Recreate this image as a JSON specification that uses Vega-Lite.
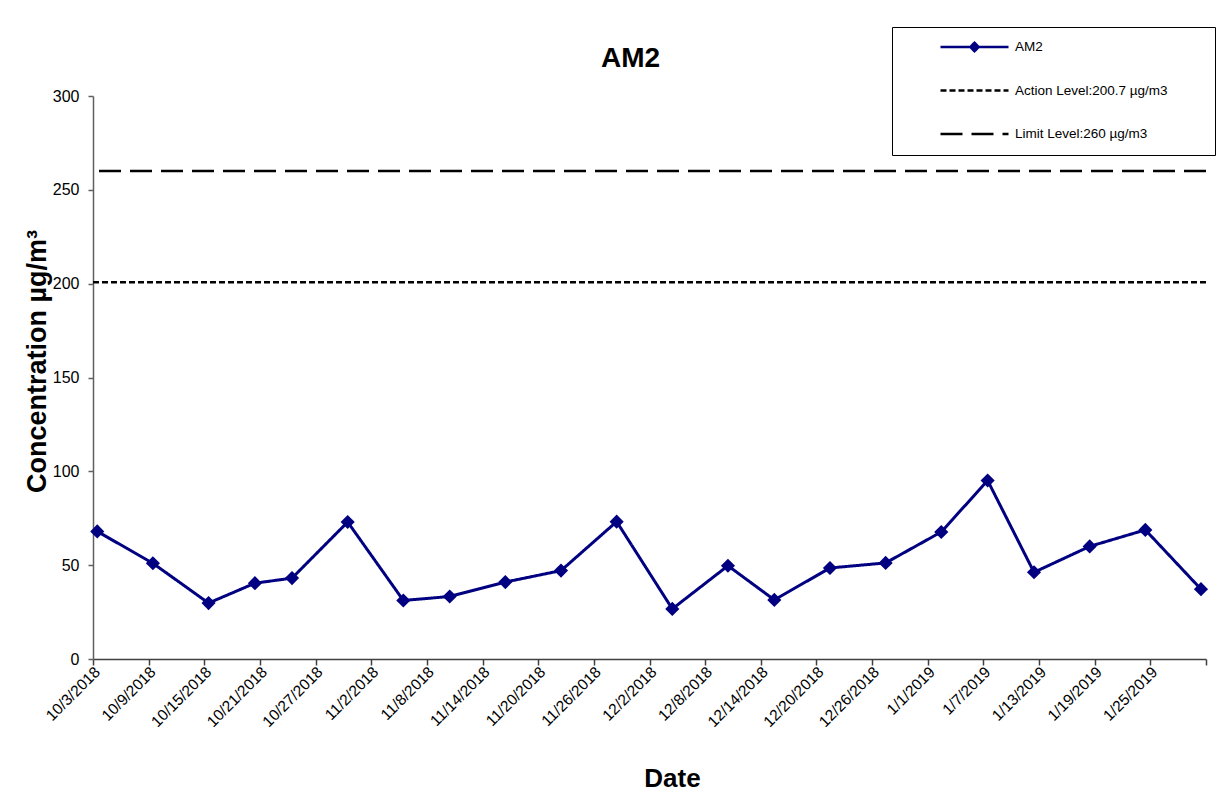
{
  "$schema": "https://vega.github.io/schema/vega-lite/v6.json",
  "width": 1113,
  "height": 563,
  "autosize": {"type": "none"},
  "padding": {"left": 93, "top": 96, "right": 20, "bottom": 148},
  "background": "white",
  "config": {"font": "Liberation Sans", "view": {"stroke": null}},
  "title": {"text": "AM2", "fontSize": 28, "fontWeight": "bold", "color": "black", "font": "Liberation Sans", "anchor": "middle", "frame": "group", "dx": -19, "dy": 74, "offset": 28},
  "datasets": {
    "am2": [
      {"date": "2018-10-03T11:00:00", "value": 68.0, "series": "AM2"},
      {"date": "2018-10-09T11:00:00", "value": 51.0, "series": "AM2"},
      {"date": "2018-10-15T11:00:00", "value": 29.8, "series": "AM2"},
      {"date": "2018-10-20T11:00:00", "value": 40.4, "series": "AM2"},
      {"date": "2018-10-24T11:00:00", "value": 43.1, "series": "AM2"},
      {"date": "2018-10-30T11:00:00", "value": 73.0, "series": "AM2"},
      {"date": "2018-11-05T11:00:00", "value": 31.2, "series": "AM2"},
      {"date": "2018-11-10T11:00:00", "value": 33.3, "series": "AM2"},
      {"date": "2018-11-16T11:00:00", "value": 41.0, "series": "AM2"},
      {"date": "2018-11-22T11:00:00", "value": 47.1, "series": "AM2"},
      {"date": "2018-11-28T11:00:00", "value": 73.2, "series": "AM2"},
      {"date": "2018-12-04T11:00:00", "value": 26.7, "series": "AM2"},
      {"date": "2018-12-10T11:00:00", "value": 49.7, "series": "AM2"},
      {"date": "2018-12-15T11:00:00", "value": 31.5, "series": "AM2"},
      {"date": "2018-12-21T11:00:00", "value": 48.5, "series": "AM2"},
      {"date": "2018-12-27T11:00:00", "value": 51.2, "series": "AM2"},
      {"date": "2019-01-02T11:00:00", "value": 67.7, "series": "AM2"},
      {"date": "2019-01-07T11:00:00", "value": 95.1, "series": "AM2"},
      {"date": "2019-01-12T11:00:00", "value": 46.2, "series": "AM2"},
      {"date": "2019-01-18T11:00:00", "value": 60.0, "series": "AM2"},
      {"date": "2019-01-24T11:00:00", "value": 68.8, "series": "AM2"},
      {"date": "2019-01-30T11:00:00", "value": 37.2, "series": "AM2"}
    ],
    "levels": [
      {"series": "Action Level:200.7 µg/m3", "value": 200.7},
      {"series": "Limit Level:260 µg/m3", "value": 260}
    ]
  },
  "layer": [
    {
      "data": {"name": "levels"},
      "mark": {"type": "rule", "strokeWidth": 2.5},
      "encoding": {
        "y": {"field": "value", "type": "quantitative", "scale": {"domain": [0, 300]}},
        "color": {"field": "series", "type": "nominal"},
        "strokeDash": {"field": "series", "type": "nominal"}
      }
    },
    {
      "data": {"name": "am2"},
      "mark": {"type": "line", "strokeWidth": 3},
      "encoding": {
        "x": {
          "field": "date", "type": "temporal",
          "scale": {"domain": [{"year": 2018, "month": 10, "date": 3}, {"year": 2019, "month": 1, "date": 31}]},
          "axis": {
            "values": [
              {"year": 2018, "month": 10, "date": 3}, {"year": 2018, "month": 10, "date": 9}, {"year": 2018, "month": 10, "date": 15},
              {"year": 2018, "month": 10, "date": 21}, {"year": 2018, "month": 10, "date": 27}, {"year": 2018, "month": 11, "date": 2},
              {"year": 2018, "month": 11, "date": 8}, {"year": 2018, "month": 11, "date": 14}, {"year": 2018, "month": 11, "date": 20},
              {"year": 2018, "month": 11, "date": 26}, {"year": 2018, "month": 12, "date": 2}, {"year": 2018, "month": 12, "date": 8},
              {"year": 2018, "month": 12, "date": 14}, {"year": 2018, "month": 12, "date": 20}, {"year": 2018, "month": 12, "date": 26},
              {"year": 2019, "month": 1, "date": 1}, {"year": 2019, "month": 1, "date": 7}, {"year": 2019, "month": 1, "date": 13},
              {"year": 2019, "month": 1, "date": 19}, {"year": 2019, "month": 1, "date": 25}, {"year": 2019, "month": 1, "date": 31}
            ],
            "format": "%-m/%-d/%Y",
            "labelExpr": "datum.label == '1/31/2019' ? '' : datum.label",
            "labelAngle": -45, "labelAlign": "right", "labelBaseline": "middle",
            "labelFontSize": 15.5, "labelColor": "black", "labelPadding": 4, "labelOffset": 4,
            "labelOverlap": false, "labelBound": false, "labelFlush": false,
            "tickSize": 6, "tickColor": "#404040", "domainColor": "#404040", "domainWidth": 1.5, "tickWidth": 1.5,
            "grid": false,
            "title": "Date", "titleFontSize": 26, "titleFontWeight": "bold", "titleColor": "black",
            "titleX": 579, "titleY": 127, "titleAlign": "center", "titleBaseline": "alphabetic", "titleAngle": 0
          }
        },
        "y": {
          "field": "value", "type": "quantitative",
          "scale": {"domain": [0, 300]},
          "axis": {
            "values": [0, 50, 100, 150, 200, 250, 300],
            "labelFontSize": 16, "labelColor": "black", "labelPadding": 9,
            "tickSize": 5, "tickColor": "#606060", "domainColor": "#606060", "domainWidth": 1.5, "tickWidth": 1.5,
            "grid": false,
            "title": "Concentration µg/m³", "titleFontSize": 27, "titleFontWeight": "bold", "titleColor": "black",
            "titleX": -48, "titleY": 265, "titleAngle": -90, "titleAlign": "center", "titleBaseline": "alphabetic"
          }
        },
        "color": {
          "field": "series", "type": "nominal",
          "scale": {"domain": ["AM2", "Action Level:200.7 µg/m3", "Limit Level:260 µg/m3"], "range": ["#000080", "#000000", "#000000"]},
          "legend": {
            "title": " ", "titleOrient": "right", "titlePadding": 33, "titleFontSize": 10,
            "orient": "none", "legendX": 799, "legendY": -69,
            "symbolType": "stroke", "symbolSize": 4624, "symbolStrokeWidth": 2.5,
            "symbolOffset": 33, "labelOffset": 5, "clipHeight": 12, "rowPadding": 29.5,
            "labelFontSize": 13.5, "labelFont": "Liberation Sans", "labelColor": "black", "labelLimit": 400,
            "padding": 14, "strokeColor": "black", "fillColor": "white",
            "encode": {
              "symbols": {
                "update": {
                  "shape": {"signal": "datum.value === 'AM2' ? 'M-1,0H1M0,-0.125L0.125,0L0,0.125L-0.125,0Z' : 'stroke'"},
                  "fill": {"signal": "datum.value === 'AM2' ? '#000080' : 'transparent'"}
                }
              }
            }
          }
        },
        "strokeDash": {
          "field": "series", "type": "nominal",
          "scale": {"domain": ["AM2", "Action Level:200.7 µg/m3", "Limit Level:260 µg/m3"], "range": [[1, 0], [6, 3], [22, 9]]},
          "legend": {
            "title": " ", "titleOrient": "right", "titlePadding": 33, "titleFontSize": 10,
            "orient": "none", "legendX": 799, "legendY": -69,
            "symbolType": "stroke", "symbolSize": 4624, "symbolStrokeWidth": 2.5,
            "symbolOffset": 33, "labelOffset": 5, "clipHeight": 12, "rowPadding": 29.5,
            "labelFontSize": 13.5, "labelFont": "Liberation Sans", "labelColor": "black", "labelLimit": 400,
            "padding": 14, "strokeColor": "black", "fillColor": "white",
            "encode": {
              "symbols": {
                "update": {
                  "shape": {"signal": "datum.value === 'AM2' ? 'M-1,0H1M0,-0.125L0.125,0L0,0.125L-0.125,0Z' : 'stroke'"},
                  "fill": {"signal": "datum.value === 'AM2' ? '#000080' : 'transparent'"}
                }
              }
            }
          }
        }
      }
    },
    {
      "data": {"name": "am2"},
      "mark": {"type": "point", "shape": "diamond", "filled": true, "size": 200, "opacity": 1},
      "encoding": {
        "x": {"field": "date", "type": "temporal"},
        "y": {"field": "value", "type": "quantitative"},
        "color": {"value": "#000080"}
      }
    }
  ]
}
